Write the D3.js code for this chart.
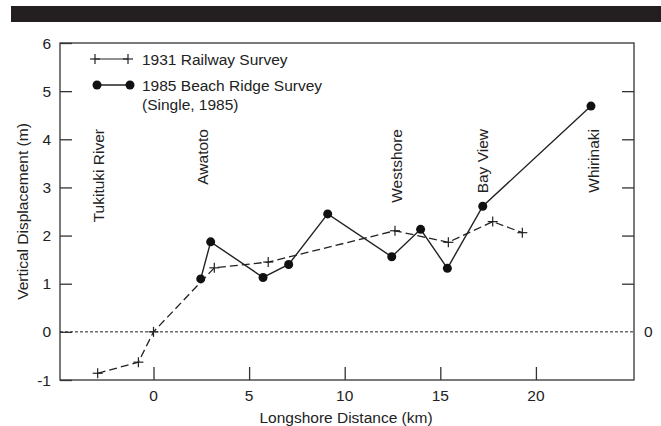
<!DOCTYPE html>
<html><head><meta charset="utf-8">
<script src="https://cdn.jsdelivr.net/npm/d3@7"></script>
<style>body{margin:0;background:#fff;}text{font-family:"Liberation Sans",Arial,sans-serif;fill:#222;}</style>
</head><body>
<svg id="c" width="661" height="426"></svg>
<script>
const railwayX = [-2.92, -0.79, 0, 3.18, 6.0, 12.63, 15.42, 17.74, 19.29];
const railwayY = [-0.86, -0.63, 0, 1.33, 1.45, 2.10, 1.86, 2.29, 2.06];
const ridgeX = [2.47, 2.99, 5.73, 7.07, 9.11, 12.46, 13.97, 15.37, 17.22, 22.88];
const ridgeY = [1.10, 1.87, 1.13, 1.40, 2.45, 1.56, 2.13, 1.32, 2.61, 4.69];
const places = ["Tukituki River", "Awatoto", "Westshore", "Bay View", "Whirinaki"];
const placeX = [-2.9, 2.55, 12.7, 17.2, 23.0];
const xTicks = [0, 5, 10, 15, 20];
const yTicks = [-1, 0, 1, 2, 3, 4, 5, 6];
const rightTicks = [1, 2, 3, 4, 5];
const legendLabels = ["1931 Railway Survey", "1985 Beach Ridge Survey", "(Single, 1985)"];

const svg = d3.select("#c");
const L = 60, R = 634, T = 43, B = 380;
const FS = 15.5;
const x = d3.scaleLinear().domain([-4.89, 25.13]).range([L, R]);
const y = d3.scaleLinear().domain([-1, 6]).range([B, T]);
const ink = "#222";

svg.append("rect").attr("x", 11).attr("y", 6).attr("width", 650).attr("height", 16).attr("fill", "#231f20");

// zero line
svg.append("line").attr("x1", L).attr("x2", R).attr("y1", y(0)).attr("y2", y(0))
  .attr("stroke", ink).attr("stroke-width", 1).attr("stroke-dasharray", "3,2");

// frame
svg.append("rect").attr("x", L).attr("y", T).attr("width", R - L).attr("height", B - T)
  .attr("fill", "none").attr("stroke", "#333").attr("stroke-width", 1.3);

// left axis
const yAx = svg.append("g").attr("transform", `translate(${L},0)`)
  .call(d3.axisRight(y).tickValues(yTicks).tickSize(12).tickFormat(""));
yAx.select(".domain").remove();
yAx.selectAll("line").attr("stroke", "#333").attr("stroke-width", 1.3);
svg.selectAll(".ylab").data(yTicks).join("text").attr("x", 51).attr("y", d => y(d) + 5.5)
  .attr("text-anchor", "end").attr("font-size", FS).text(d => d);

// right axis
const rAx = svg.append("g").attr("transform", `translate(${R},0)`)
  .call(d3.axisLeft(y).tickValues(rightTicks).tickSize(12).tickFormat(""));
rAx.select(".domain").remove();
rAx.selectAll("line").attr("stroke", "#333").attr("stroke-width", 1.3);
svg.append("text").attr("x", 644).attr("y", y(0) + 5.5).attr("font-size", FS).text("0");

// bottom axis
const xAx = svg.append("g").attr("transform", `translate(0,${B})`)
  .call(d3.axisTop(x).tickValues(xTicks).tickSize(13).tickFormat(""));
xAx.select(".domain").remove();
xAx.selectAll("line").attr("stroke", "#333").attr("stroke-width", 1.3);
svg.selectAll(".xlab").data(xTicks).join("text").attr("x", d => x(d)).attr("y", 401)
  .attr("text-anchor", "middle").attr("font-size", FS).text(d => d);

svg.append("text").attr("x", (L + R) / 2 - 1).attr("y", 423).attr("text-anchor", "middle")
  .attr("font-size", FS).text("Longshore Distance (km)");
svg.append("text").attr("transform", `translate(28,${(T + B) / 2}) rotate(-90)`)
  .attr("text-anchor", "middle").attr("font-size", FS).text("Vertical Displacement (m)");

// place labels
svg.selectAll(".place").data(places).join("text")
  .attr("transform", (d, i) => `translate(${x(placeX[i]) + 5.5},129) rotate(-90)`)
  .attr("text-anchor", "end").attr("font-size", FS).text(d => d);

const line = d3.line().x(d => x(d[0])).y(d => y(d[1]));
const rail = railwayX.map((v, i) => [v, railwayY[i]]);
const ridge = ridgeX.map((v, i) => [v, ridgeY[i]]);

svg.append("path").attr("d", line(rail)).attr("fill", "none").attr("stroke", ink)
  .attr("stroke-width", 1.3).attr("stroke-dasharray", "8,4");
const cross = (g, cx, cy) => {
  g.append("line").attr("x1", cx - 5).attr("x2", cx + 5).attr("y1", cy).attr("y2", cy).attr("stroke", ink).attr("stroke-width", 1.2);
  g.append("line").attr("x1", cx).attr("x2", cx).attr("y1", cy - 5).attr("y2", cy + 5).attr("stroke", ink).attr("stroke-width", 1.2);
};
const cg = svg.append("g");
rail.forEach(d => cross(cg, x(d[0]), y(d[1])));

svg.append("path").attr("d", line(ridge)).attr("fill", "none").attr("stroke", ink).attr("stroke-width", 1.4);
svg.selectAll(".dot").data(ridge).join("circle").attr("cx", d => x(d[0])).attr("cy", d => y(d[1]))
  .attr("r", 4.5).attr("fill", "#111");

// legend
const lg = svg.append("g");
lg.append("line").attr("x1", 95).attr("x2", 128).attr("y1", 59).attr("y2", 59).attr("stroke", ink).attr("stroke-width", 1.2);
cross(lg, 95, 59); cross(lg, 128, 59);
lg.append("text").attr("x", 142).attr("y", 64.5).attr("font-size", FS).text(legendLabels[0]);
lg.append("line").attr("x1", 97).attr("x2", 130).attr("y1", 85).attr("y2", 85).attr("stroke", ink).attr("stroke-width", 1.4);
lg.append("circle").attr("cx", 97).attr("cy", 85).attr("r", 4.5).attr("fill", "#111");
lg.append("circle").attr("cx", 130).attr("cy", 85).attr("r", 4.5).attr("fill", "#111");
lg.append("text").attr("x", 142).attr("y", 90.5).attr("font-size", FS).text(legendLabels[1]);
lg.append("text").attr("x", 142).attr("y", 109.5).attr("font-size", FS).text(legendLabels[2]);
</script>
</body></html>
